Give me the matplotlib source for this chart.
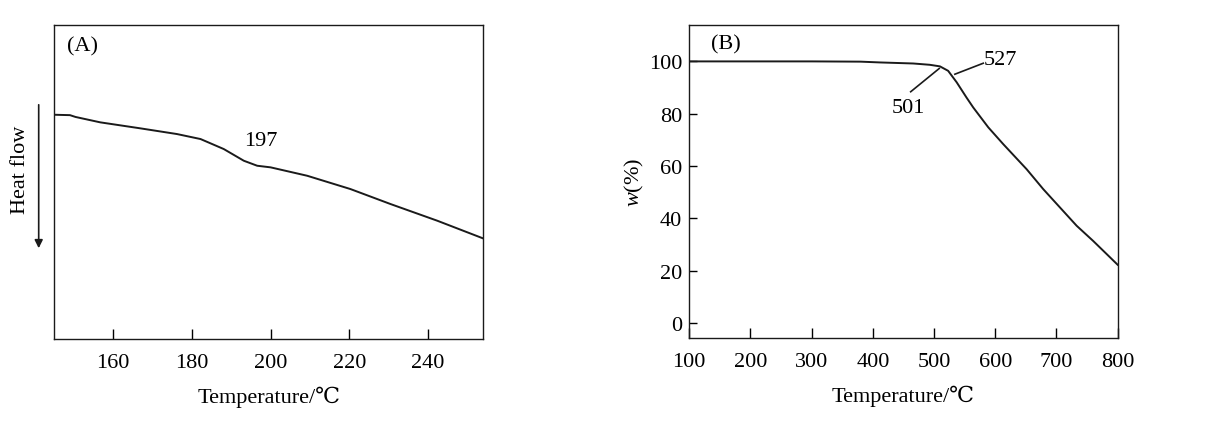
import matplotlib
matplotlib.use('Agg')
import matplotlib.pyplot as plt
from matplotlib.patches import FancyArrowPatch

plt.rcParams['font.family'] = ['Liberation Serif', 'DejaVu Serif']
plt.rcParams['mathtext.fontset'] = 'custom'
plt.rcParams['mathtext.it'] = 'Liberation Serif:italic'
plt.rcParams['mathtext.rm'] = 'Liberation Serif'

# (A) DSC curve, heat flow in arbitrary units
dsc_temp = [145, 149, 150.4, 156.7, 166.9, 176.2, 182.2, 188.1, 193.2, 196.6,
            200, 209.3, 220.3, 230.5, 242.4, 254]
dsc_flow = [224, 223.6, 221.8, 216.4, 210.4, 204.7, 199.7, 189.7, 178, 173,
            171.4, 163, 149.7, 134.7, 118, 100.4]

# (B) TGA curve
tga_temp = [100, 200, 300, 380, 411.6, 466, 493, 509.6, 523, 537, 553, 564,
            588.6, 613, 651.3, 678.4, 705.7, 733, 760, 782, 800]
tga_w = [100, 100, 100, 99.9, 99.6, 99.2, 98.7, 98.1, 96.4, 92, 86.2, 82.4,
         74.8, 68.4, 58.8, 51.2, 44.2, 37.2, 31.4, 26.4, 22.3]

a_ticks = [160, 180, 200, 220, 240]
b_xticks = [100, 200, 300, 400, 500, 600, 700, 800]
b_yticks = [0, 20, 40, 60, 80, 100]

FS = 16
LC = '#1a1a1a'

fig = plt.figure(figsize=(12.08, 4.35), dpi=100)

# ---- panel A ----
ax1 = fig.add_axes([0.0449, 0.219, 0.3549, 0.7218])
ax1.plot(dsc_temp, dsc_flow, color=LC, lw=1.4)
ax1.set_xlim(145, 254)
ax1.set_ylim(0, 314)
ax1.set_xticks(a_ticks)
ax1.set_yticks([])
ax1.tick_params(axis='x', direction='in', length=7, width=1, labelsize=FS, pad=10)
ax1.set_xlabel('Temperature/℃', fontsize=FS, labelpad=10)
ax1.text(0.029, 0.933, '(A)', transform=ax1.transAxes, fontsize=FS, va='center', ha='left')
ax1.text(197.4, 198, '197', fontsize=FS, ha='center', va='center')

# heat flow label with downward arrow, outside the axes
fig.text(21 / 1208, 1 - 170 / 435, 'Heat flow', rotation=90, fontsize=FS,
         ha='center', va='center')
fig.add_artist(FancyArrowPatch(
    (38.7 / 1208, 1 - 103 / 435), (38.7 / 1208, 1 - 252 / 435),
    transform=fig.transFigure, arrowstyle='-|>', mutation_scale=12,
    color=LC, lw=1.2))

# ---- panel B ----
ax2 = fig.add_axes([0.5706, 0.22, 0.3546, 0.7202])
ax2.plot(tga_temp, tga_w, color=LC, lw=1.4)
ax2.set_xlim(100, 800)
ax2.set_ylim(-5.8, 113.9)
ax2.set_xticks(b_xticks)
ax2.set_yticks(b_yticks)
ax2.tick_params(axis='x', direction='in', length=7, width=1, labelsize=FS, pad=10)
ax2.tick_params(axis='y', direction='in', length=6, width=1, labelsize=FS, pad=5)
ax2.set_xlabel('Temperature/℃', fontsize=FS, labelpad=10)
ax2.set_ylabel('$\\mathit{w}$(%)', fontsize=FS, labelpad=2)
ax2.text(0.05, 0.939, '(B)', transform=ax2.transAxes, fontsize=FS, va='center', ha='left')

# leader lines for the onset temperatures
ax2.plot([534, 580.4], [95.1, 99.3], color=LC, lw=1.2)
ax2.text(609, 100.6, '527', fontsize=FS, ha='center', va='center')
ax2.plot([461.8, 508.5], [88.4, 97.3], color=LC, lw=1.2)
ax2.text(457.9, 82.4, '501', fontsize=FS, ha='center', va='center')

for ax in (ax1, ax2):
    for s in ax.spines.values():
        s.set_linewidth(1.0)
        s.set_color(LC)

fig.savefig('out.png', dpi=100)
